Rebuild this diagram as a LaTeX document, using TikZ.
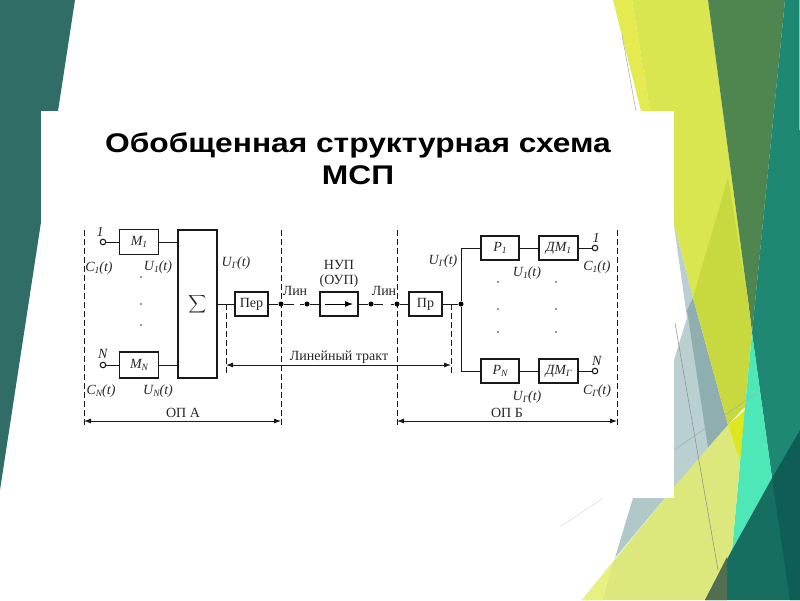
\documentclass[tikz,border=0pt]{standalone}
\usepackage{fontspec}
\setmainfont{Liberation Serif}
\newfontfamily\titlefont{Liberation Sans}
\newcommand{\lo}[1]{\raisebox{-2.5pt}{\fontsize{9.5}{10}\selectfont #1}}
\newcommand{\sigl}[2]{\textit{#1\lo{#2}(t)}}
\usetikzlibrary{arrows.meta}
\tikzset{
  x=1pt,y=-1pt,
  blk/.style={draw=black!90,line width=1.2pt,fill=white,inner sep=0pt,font=\fontsize{14}{16}\selectfont,text=black!85},
  wire/.style={draw=black!90,line width=1pt},
  lab/.style={inner sep=0pt,font=\fontsize{14}{16}\selectfont,text=black!85},
  term/.style={circle,draw=black!90,line width=1.1pt,fill=white,inner sep=0pt,minimum size=5.5pt},
  jn/.style={circle,fill=black,inner sep=0pt,minimum size=5pt},
  pt/.style={circle,fill=black!80,inner sep=0pt,minimum size=1.8pt},
  bound/.style={draw=black!90,line width=.8pt,dash pattern=on 6pt off 3pt},
  span/.style={draw=black!90,line width=.8pt,{Latex[length=7pt,width=5pt]}-{Latex[length=7pt,width=5pt]}},
  titl/.style={inner sep=0pt,font=\titlefont\bfseries\fontsize{27}{30}\selectfont,text=black}
}
\begin{document}
\begin{tikzpicture}
\useasboundingbox (0,0) rectangle (800,600);
\fill[white] (0,0) rectangle (800,600);
% left band
\fill[fill={rgb,255:red,47;green,109;blue,102}] (0,0)--(75,0)--(0,490)--cycle;
% right background
\fill[fill={rgb,255:red,228;green,234;blue,80}] (613,0)--(632,0)--(650,111)--(641,111)--cycle;
\draw[black!35,line width=.5pt] (622,35)--(636,111);
\fill[fill={rgb,255:red,217;green,230;blue,80}] (632,0)--(708,0)--(748,300)--(693,298)--(674,225)--(674,111)--(650,111)--cycle;
\fill[fill={rgb,255:red,79;green,134;blue,80}] (708,0)--(785,0)--(752,333)--(748,300)--cycle;
\fill[fill={rgb,255:red,30;green,136;blue,115}] (785,0)--(800,0)--(800,430)--(772,478)--(752,333)--cycle;
\fill[fill={rgb,255:red,79;green,232;blue,176}] (799,0) rectangle (800,130);
% grey-blue
\fill[fill={rgb,255:red,186;green,208;blue,208}] (674,225)--(693,298)--(708,448)--(673,490)--(674,360)--(687,318)--cycle;
\fill[fill={rgb,255:red,143;green,174;blue,176}] (693,298)--(728,425)--(708,448)--(687,310)--cycle;
\fill[fill={rgb,255:red,176;green,200;blue,200}] (633,498)--(674,498)--(674,487)--(615,558)--cycle;
% olive
\fill[fill={rgb,255:red,200;green,217;blue,63}] (728,177)--(748,300)--(752,333)--(745,407)--(728,425)--(693,298)--cycle;
\fill[fill={rgb,255:red,221;green,230;blue,30}] (728,425)--(745,410)--(740,463)--cycle;
% aquamarine
\fill[fill={rgb,255:red,78;green,232;blue,184}] (752,333)--(772,478)--(732,550)--(740,463)--(745,407)--cycle;
% pale yellow
\fill[fill={rgb,255:red,220;green,231;blue,124}] (582,600)--(674,487)--(708,448)--(728,425)--(740,463)--(732,550)--(705,600)--cycle;
\fill[fill={rgb,255:red,232;green,240;blue,128}] (582,600)--(613,562)--(603,600)--cycle;
% dark teal
\fill[fill={rgb,255:red,22;green,110;blue,96}] (772,478)--(800,430)--(800,600)--(705,600)--(732,550)--cycle;
\fill[fill={rgb,255:red,14;green,94;blue,85}] (772,478)--(800,430)--(800,600)--(790,600)--cycle;
\fill[fill={rgb,255:red,79;green,111;blue,80}] (705,600)--(727,557)--(727,600)--cycle;
% thin lines
\draw[black!45,line width=.5pt] (675,323)--(718,570);
\draw[black!35,line width=.4pt] (674,450)--(757,393);
\draw[black!15,line width=.5pt] (560,527)--(602,499);
% panel
\fill[white] (41,111) rectangle (674,498);
% title
\node[titl] (t1) at (358,145) {\scalebox{1.175}[1]{Обобщенная структурная схема}};
\node[titl] (t2) at (358,175) {\scalebox{1.175}[1]{МСП}};
% boundaries
\coordinate (b1t) at (84,230); \coordinate (b1b) at (84,427);
\coordinate (b2t) at (281,230); \coordinate (b2b) at (281,427);
\coordinate (b3t) at (397,230); \coordinate (b3b) at (397,427);
\coordinate (b4t) at (617,230); \coordinate (b4b) at (617,427);
\coordinate (c1t) at (226,304); \coordinate (c1b) at (226,375);
\coordinate (c2t) at (451,304); \coordinate (c2b) at (451,375);
\draw[bound] (b1t)--(b1b);
\draw[bound] (b2t)--(b2b);
\draw[bound] (b3t)--(b3b);
\draw[bound] (b4t)--(b4b);
\draw[bound] (c1t)--(c1b);
\draw[bound] (c2t)--(c2b);
% blocks
\node[blk,minimum width=39pt,minimum height=25pt] (m1) at (139,242) {\textit{M\lo{1}}};
\node[blk,minimum width=39pt,minimum height=26pt] (mn) at (139,365) {\textit{M\lo{N}}};
\node[blk,minimum width=39pt,minimum height=148pt] (sum) at (197.5,304) {\scalebox{1.25}{$\displaystyle\sum$}};
\node[blk,minimum width=33pt,minimum height=24pt] (per) at (251.5,304) {Пер};
\node[blk,minimum width=38pt,minimum height=24pt] (nup) at (339,304) {};
\node[blk,minimum width=33pt,minimum height=24pt] (pr) at (425.5,304) {Пр};
\node[blk,minimum width=38pt,minimum height=24pt] (p1) at (500,248) {\textit{P\lo{1}}};
\node[blk,minimum width=39pt,minimum height=24pt] (d1) at (558.5,248) {\textit{ДМ\lo{1}}};
\node[blk,minimum width=38pt,minimum height=24pt] (pn) at (500,371) {\textit{P\lo{N}}};
\node[blk,minimum width=39pt,minimum height=24pt] (dn) at (558.5,371) {\textit{ДМ\lo{Г}}};
% terminals
\node[term] (i1) at (103,242) {};
\node[term] (in) at (103,365) {};
\node[term] (o1) at (595,248) {};
\node[term] (on) at (595,371) {};
% junctions
\node[jn] (j1) at (281,304) {};
\node[jn] (j2) at (307,304) {};
\node[jn] (j3) at (371,304) {};
\node[jn] (j4) at (397,304) {};
\node[jn] (j5) at (461,304) {};
\coordinate (g1) at (294,304); \coordinate (g2) at (300,304);
\coordinate (g3) at (383,304); \coordinate (g4) at (391,304);
% wires
\draw[wire] (i1)--(m1);
\draw[wire] (in)--(mn);
\draw[wire] (m1.east)--(m1.east-|sum.west);
\draw[wire] (mn.east)--(mn.east-|sum.west);
\draw[wire] (sum)--(per);
\draw[wire] (per)--(j1);
\draw[wire] (j1)--(g1);
\draw[wire] (g2)--(j2);
\draw[wire] (j2)--(nup);
\draw[wire] (nup)--(j3);
\draw[wire] (j3)--(g3);
\draw[wire] (g4)--(j4);
\draw[wire] (j4)--(pr);
\draw[wire] (pr)--(j5);
\draw[wire] (j5)|-(p1);
\draw[wire] (j5)|-(pn);
\draw[wire] (p1)--(d1);
\draw[wire] (pn)--(dn);
\draw[wire] (d1)--(o1);
\draw[wire] (dn)--(on);
% amplifier arrow
\coordinate (a1) at (325,304); \coordinate (a2) at (353,304);
\draw[line width=1pt,-{Latex[length=8pt,width=6pt]}] (a1)--(a2);
% spans
\draw[span] (c1b|-0,365) coordinate (s1) -- (c2b|-0,365) coordinate (s2);
\draw[span] (b1b|-0,421) coordinate (s3) -- (b2b|-0,421) coordinate (s4);
\draw[span] (b3b|-0,421) coordinate (s5) -- (b4b|-0,421) coordinate (s6);
% dots
\foreach \n/\x/\y in {a/141/277,b/141/304,c/141/325,d/498/282,e/498/309,f/498/332,g/556/282,h/556/309,k/556/332}
  \node[pt] (dot\n) at (\x,\y) {};
% labels
\node[lab] (l1) at (100,232) {\textit{1}};
\node[lab] (l2) at (103,354) {\textit{N}};
\node[lab] (l3) at (596,238) {\textit{1}};
\node[lab] (l4) at (597,361) {\textit{N}};
\node[lab] (l5) at (99,268) {\sigl{C}{1}};
\node[lab] (l6) at (158,267) {\sigl{U}{1}};
\node[lab] (l7) at (236,263) {\sigl{U}{Г}};
\node[lab] (l8) at (101,391) {\sigl{C}{N}};
\node[lab] (l9) at (158,391) {\sigl{U}{N}};
\node[lab] (l10) at (443,261) {\sigl{U}{Г}};
\node[lab] (l11) at (527,273) {\sigl{U}{1}};
\node[lab] (l12) at (597,267) {\sigl{C}{1}};
\node[lab] (l13) at (527,397) {\sigl{U}{Г}};
\node[lab] (l14) at (597,391) {\sigl{C}{Г}};
\node[lab] (l15) at (295,291) {Лин};
\node[lab] (l16) at (384,291) {Лин};
\node[lab] (l17) at (339,265) {НУП};
\node[lab] (l18) at (339,281) {(ОУП)};
\node[lab] (l19) at (339,357) {Линейный тракт};
\node[lab] (l20) at (183,413) {ОП А};
\node[lab] (l21) at (507,413) {ОП Б};
\end{tikzpicture}
\end{document}
